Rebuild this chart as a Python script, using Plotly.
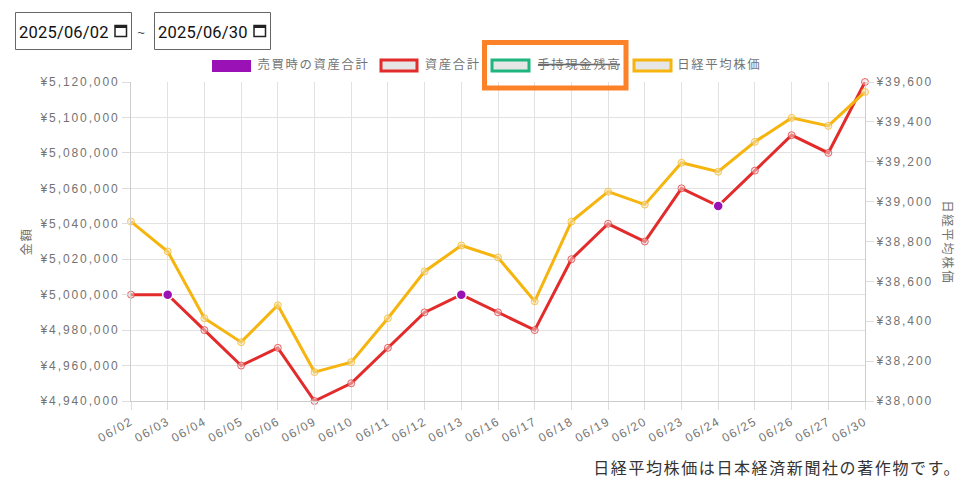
import plotly.graph_objects as go

# 表示データ
dates = ['06/02', '06/03', '06/04', '06/05', '06/06', '06/09', '06/10', '06/11', '06/12', '06/13', '06/16',
         '06/17', '06/18', '06/19', '06/20', '06/23', '06/24', '06/25', '06/26', '06/27', '06/30']
assets = [5000000, 5000000, 4980000, 4960000, 4970000, 4940000, 4950000, 4970000, 4990000, 5000000, 4990000,
          4980000, 5020000, 5040000, 5030000, 5060000, 5050000, 5070000, 5090000, 5080000, 5120000]
nikkei = [38900, 38750, 38415, 38295, 38480, 38145, 38195, 38415, 38650, 38780, 38720,
          38500, 38900, 39050, 38985, 39195, 39150, 39300, 39420, 39380, 39550]
trade_dates = ['06/03', '06/13', '06/24']
trade_assets = [5000000, 5000000, 5050000]

left_ticks = [4940000, 4960000, 4980000, 5000000, 5020000, 5040000, 5060000, 5080000, 5100000, 5120000]
right_ticks = [38000, 38200, 38400, 38600, 38800, 39000, 39200, 39400, 39600]

RED = '#e32b2b'
YELLOW = '#f6b40e'
GREEN = '#1fb57f'
PURPLE = '#9a11b5'
GREY = '#737373'
JP = 'Noto Sans CJK JP'
ARIAL = 'Liberation Sans'

# プロット領域（ピクセル）
L, R, T, B = 131, 865, 82, 401


def px(x):
    return (x - L) / (R - L)


def py(y):
    return (B - y) / (B - T)


def box(x0, y0, x1, y1, line=None, width=1, fill=None):
    return dict(type='rect', xref='paper', yref='paper', x0=px(x0), x1=px(x1), y0=py(y0), y1=py(y1),
                line=dict(color=line, width=width if line else 0), fillcolor=fill, layer='above')


def label(x, y, text, size=12.4, color=GREY, font=JP, angle=0):
    return dict(xref='paper', yref='paper', x=px(x), y=py(y), text=text, showarrow=False, textangle=angle,
                xanchor='center', yanchor='middle', font=dict(family=font, size=size, color=color))


fig = go.Figure()

fig.add_trace(go.Scatter(
    x=dates, y=nikkei, yaxis='y2', mode='lines+markers', name='日経平均株価', cliponaxis=False,
    line=dict(color=YELLOW, width=3),
    marker=dict(size=7, color='rgba(240,225,190,0.5)', line=dict(color='rgba(246,180,14,0.7)', width=1))
))
fig.add_trace(go.Scatter(
    x=dates, y=assets, mode='lines+markers', name='資産合計', cliponaxis=False,
    line=dict(color=RED, width=3),
    marker=dict(size=7, color='rgba(240,215,215,0.5)', line=dict(color='rgba(227,43,43,0.7)', width=1))
))
fig.add_trace(go.Scatter(
    x=trade_dates, y=trade_assets, mode='markers', name='売買時の資産合計', cliponaxis=False,
    marker=dict(size=10, color=PURPLE, line=dict(color='white', width=1.5))
))

shapes = [
    # 日付入力
    box(15.5, 12.5, 131.5, 49.5, line='#666666'),
    box(154.5, 12.5, 270.5, 49.5, line='#666666'),
    box(115, 25.5, 126.5, 36.5, line='#222222', width=1.5),
    box(115, 25, 126.5, 28, fill='#222222'),
    box(254, 25.5, 265.5, 36.5, line='#222222', width=1.5),
    box(254, 25, 265.5, 28, fill='#222222'),
    # 凡例
    box(212, 60, 251, 72, fill=PURPLE),
    box(381, 60, 417, 71, line=RED, width=3, fill='#e6e6e6'),
    box(492, 60, 529, 71, line=GREEN, width=3, fill='#e6e6e6'),
    box(634, 60, 671, 71, line=YELLOW, width=3, fill='#e6e6e6'),
    # 非表示系列の取り消し線
    dict(type='line', xref='paper', yref='paper', x0=px(538), x1=px(620), y0=py(64.5), y1=py(64.5),
         line=dict(color='#666666', width=1.5), layer='above'),
    # ハイライト枠
    box(484.5, 42.5, 626, 88, line='#fb8228', width=5),
]

annotations = [
    label(63.5, 32, '2025/06/02', size=16.5, color='#111111', font='Roboto'),
    label(202.5, 32, '2025/06/30', size=16.5, color='#111111', font='Roboto'),
    label(142, 33, '~', size=13, color='#444444', font=ARIAL),
    label(314, 64, '売買時の資産合計'),
    label(453, 64, '資産合計'),
    label(579, 64, '手持現金残高'),
    label(719, 64, '日経平均株価'),
    label(776.5, 467, '日経平均株価は日本経済新聞社の著作物です。', size=16, color='#333333'),
    label(26, 242, '金額', angle=-90),
    label(948, 242, '日経平均株価', angle=90),
]

fig.update_layout(
    width=980, height=495,
    margin=dict(l=L, r=980 - R, t=T, b=495 - B),
    paper_bgcolor='white', plot_bgcolor='white',
    showlegend=False,
    font=dict(family=ARIAL, size=12, color=GREY),
    shapes=shapes, annotations=annotations,
    xaxis=dict(type='category', categoryorder='array', categoryarray=dates, range=[0, len(dates) - 1],
               tickangle=-30, ticks='outside', ticklen=8, tickcolor='#dddddd', tickwidth=1,
               showgrid=True, gridcolor='#e2e2e2', gridwidth=1,
               showline=True, linecolor='#cccccc', linewidth=1, zeroline=False,
               tickfont=dict(family=ARIAL, size=12, color=GREY)),
    yaxis=dict(range=[4940000, 5120000], tickvals=left_ticks,
               ticktext=['¥{:,}'.format(v) for v in left_ticks],
               ticks='outside', ticklen=8, tickcolor='#dddddd', tickwidth=1,
               showgrid=True, gridcolor='#e2e2e2', gridwidth=1,
               showline=True, linecolor='#cccccc', linewidth=1, zeroline=False,
               tickfont=dict(family=ARIAL, size=12, color=GREY)),
    yaxis2=dict(range=[38000, 39600], overlaying='y', side='right', tickvals=right_ticks,
                ticktext=['¥{:,}'.format(v) for v in right_ticks],
                ticks='outside', ticklen=8, tickcolor='#dddddd', tickwidth=1,
                showgrid=False, showline=True, linecolor='#cccccc', linewidth=1, zeroline=False,
                tickfont=dict(family=ARIAL, size=12, color=GREY)),
)

# 文字間隔は plotly の font に無いので CSS で指定
post_js = """
document.body.style.margin = '0';
var st = document.createElement('style');
st.textContent = '.main-svg text { letter-spacing: 1.6px; }'
  + '.ytick text, .y2tick text { letter-spacing: 1.9px; }'
  + '.annotation[data-index="0"] text, .annotation[data-index="1"] text { letter-spacing: 0.2px; }';
document.head.appendChild(st);
"""

fig.write_html("out.html", post_script=post_js, config=dict(displayModeBar=False))
